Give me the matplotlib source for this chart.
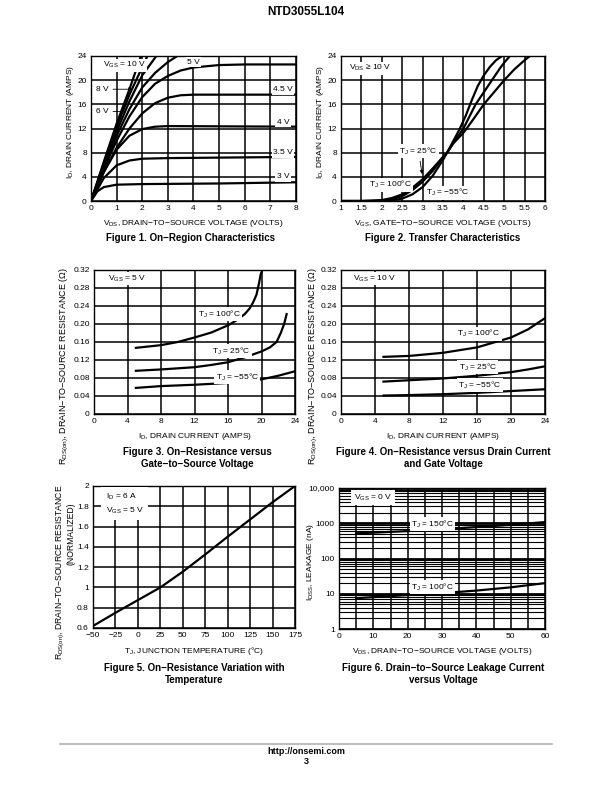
import numpy as np
import matplotlib
matplotlib.use("agg")
import matplotlib.pyplot as plt
from matplotlib.ticker import FixedLocator, NullFormatter

plt.rcParams['font.family'] = ['Liberation Sans', 'DejaVu Sans']
plt.rcParams['mathtext.default'] = 'regular'

# ---- Figure 1: on-region characteristics (VDS, ID) ----
f1_vds = {
    "10 V": [0, 0.5, 1, 1.5, 1.95],
    "8 V": [0, 0.5, 1, 1.5, 2.2],
    "6 V": [0, 0.5, 1, 1.5, 2, 2.55],
    "extra": [0, 0.5, 1, 1.5, 2, 2.5, 3, 3.37],
    "5 V": [0, 0.5, 1, 1.5, 2, 2.5, 3, 3.5, 4, 5, 6, 8],
    "4.5 V": [0, 0.5, 1, 1.5, 2, 2.5, 3, 3.5, 4, 8],
    "4 V": [0, 0.5, 1, 1.5, 2, 2.5, 3, 8],
    "3.5 V": [0, 0.5, 1, 1.5, 2, 3, 8],
    "3 V": [0, 0.25, 0.5, 1, 2, 5, 8],
}
f1_id = {
    "10 V": [0, 6.5, 12.8, 18.5, 24],
    "8 V": [0, 6.2, 12.2, 17.6, 24],
    "6 V": [0, 5.9, 11.5, 16.5, 20.8, 24],
    "extra": [0, 5.6, 10.8, 15.2, 18.8, 21.2, 23, 24],
    "5 V": [0, 5.3, 10, 14, 17.2, 19.4, 20.7, 21.6, 22.1, 22.5, 22.6, 22.6],
    "4.5 V": [0, 4.8, 8.8, 12, 14.5, 16.2, 17.1, 17.5, 17.6, 17.6],
    "4 V": [0, 4.8, 8.5, 10.8, 11.9, 12.3, 12.4, 12.3],
    "3.5 V": [0, 3.8, 5.9, 6.7, 7.0, 7.1, 7.3],
    "3 V": [0, 1.6, 2.3, 2.7, 2.8, 2.9, 3.1],
}

# ---- Figure 2: transfer characteristics (VGS, ID) ----
f2_vgs_100 = [1, 1.5, 2, 2.25, 2.5, 2.75, 3, 3.25, 3.5, 3.6, 3.75, 4, 4.08, 4.25, 4.5, 4.75, 5, 5.25, 5.5, 5.63]
f2_id_100 = [0, 0, 0.15, 0.5, 1.1, 2.2, 3.6, 5.4, 7.3, 8, 9.5, 11.3, 12, 13.6, 16, 18, 20, 21.8, 23.3, 24]
f2_vgs_25 = [1, 1.75, 2, 2.25, 2.5, 2.75, 3, 3.25, 3.5, 3.6, 3.75, 4, 4.15, 4.3, 4.5, 4.7, 4.9, 5.0, 5.14]
f2_id_25 = [0, 0, 0.05, 0.3, 0.8, 1.8, 3.2, 5.0, 7.2, 8, 9.6, 12, 14, 16, 18, 20, 22, 22.9, 24]
f2_vgs_m55 = [1, 2, 2.25, 2.5, 2.75, 3, 3.25, 3.5, 3.6, 3.75, 3.9, 4.05, 4.2, 4.35, 4.5, 4.65, 4.8, 4.95]
f2_id_m55 = [0, 0, 0.1, 0.4, 1.1, 2.3, 4.2, 6.8, 8, 9.9, 11.8, 14, 16.6, 19, 20.8, 22.2, 23.3, 24]

# ---- Figure 3: RDS(on) vs ID, VGS = 5 V ----
f3_id_100 = [5, 8, 10, 12, 14, 16, 17, 18, 18.6, 19, 19.4, 19.7, 19.9, 20.1]
f3_r_100 = [0.147, 0.153, 0.16, 0.17, 0.181, 0.197, 0.208, 0.222, 0.235, 0.248, 0.265, 0.29, 0.31, 0.32]
f3_id_25 = [5, 8, 12, 14, 16, 18, 20, 21, 21.8, 22.3, 22.7, 23]
f3_r_25 = [0.096, 0.099, 0.104, 0.109, 0.115, 0.126, 0.139, 0.148, 0.16, 0.18, 0.2, 0.222]
f3_id_m55 = [5, 8, 12, 16, 20, 22, 24]
f3_r_m55 = [0.058, 0.062, 0.065, 0.069, 0.077, 0.085, 0.095]

# ---- Figure 4: RDS(on) vs ID, VGS = 10 V ----
f4_id = [5, 8, 12, 16, 20, 22, 24]
f4_r_100 = [0.127, 0.129, 0.136, 0.148, 0.17, 0.188, 0.213]
f4_r_25 = [0.072, 0.075, 0.079, 0.085, 0.093, 0.099, 0.106]
f4_r_m55 = [0.041, 0.042, 0.044, 0.047, 0.051, 0.053, 0.055]

# ---- Figure 5: normalized RDS(on) vs TJ ----
f5_tj = [-50, -25, 0, 25, 50, 75, 100, 125, 150, 175]
f5_r = [0.62, 0.75, 0.875, 1.0, 1.155, 1.325, 1.5, 1.67, 1.84, 2.0]

# ---- Figure 6: IDSS leakage vs VDS ----
f6_vds = [5, 10, 20, 30, 40, 50, 60]
f6_i_150 = [520, 540, 600, 670, 780, 900, 1080]
f6_i_100 = [7.5, 8.0, 9.2, 10.4, 12.3, 15.2, 20]

W, H = 612, 792
fig = plt.figure(figsize=(6.12, 7.92), dpi=100)


def add_axes(x0, y0, x1, y1):
    return fig.add_axes([x0 / W, 1 - y1 / H, (x1 - x0) / W, (y1 - y0) / H])


def ylab(x, y, s, size=6):
    # y-axis titles placed in page pixels, like the datasheet
    fig.text(x / W, 1 - y / H, s, rotation=90, ha='center', va='center', fontsize=size)


def style(ax):
    for s in ax.spines.values():
        s.set_linewidth(1.0)
    ax.tick_params(length=0, labelsize=6, pad=3)
    ax.grid(True, which='both', color='black', linewidth=1.1)
    ax.set_axisbelow(True)


box = dict(facecolor='white', edgecolor='none', pad=1)
lw = 1.6
fs = 6

# Figure 1
ax1 = add_axes(91, 56, 296, 201)
for k in f1_vds:
    ax1.plot(f1_vds[k], f1_id[k], color='black', lw=lw)
ax1.set_xlim(0, 8)
ax1.set_ylim(0, 24)
ax1.set_xticks(range(0, 9))
ax1.set_yticks(range(0, 25, 4))
style(ax1)
ax1.set_xlabel('V$_{DS}$, DRAIN\u2212TO\u2212SOURCE VOLTAGE (VOLTS)', fontsize=fs)
ylab(70, 122, 'I$_{D}$, DRAIN CURRENT (AMPS)')
ax1.text(1.3, 22.5, 'V$_{GS}$ = 10 V', fontsize=fs, ha='center', va='center', bbox=box)
ax1.annotate('8 V', xy=(1.72, 18.5), xytext=(0.45, 18.5), fontsize=fs, ha='center', va='center',
             bbox=box, arrowprops=dict(arrowstyle='-|>', lw=0.6, color='black', mutation_scale=5))
ax1.annotate('6 V', xy=(1.45, 14.8), xytext=(0.45, 14.8), fontsize=fs, ha='center', va='center',
             bbox=box, arrowprops=dict(arrowstyle='-|>', lw=0.6, color='black', mutation_scale=5))
ax1.text(4.0, 23.0, '5 V', fontsize=fs, ha='center', va='center', bbox=box)
ax1.text(7.5, 18.4, '4.5 V', fontsize=fs, ha='center', va='center', bbox=box)
ax1.text(7.5, 13.0, '4 V', fontsize=fs, ha='center', va='center', bbox=box)
ax1.text(7.5, 8.0, '3.5 V', fontsize=fs, ha='center', va='center', bbox=box)
ax1.text(7.5, 4.0, '3 V', fontsize=fs, ha='center', va='center', bbox=box)

# Figure 2
ax2 = add_axes(341, 56, 545, 201)
ax2.plot(f2_vgs_100, f2_id_100, color='black', lw=lw)
ax2.plot(f2_vgs_25, f2_id_25, color='black', lw=lw)
ax2.plot(f2_vgs_m55, f2_id_m55, color='black', lw=lw)
ax2.set_xlim(1, 6)
ax2.set_ylim(0, 24)
ax2.set_xticks(np.arange(1, 6.01, 0.5))
ax2.set_xticklabels(['1', '1.5', '2', '2.5', '3', '3.5', '4', '4.5', '5', '5.5', '6'])
ax2.set_yticks(range(0, 25, 4))
style(ax2)
ax2.set_xlabel('V$_{GS}$, GATE\u2212TO\u2212SOURCE VOLTAGE (VOLTS)', fontsize=fs)
ylab(320, 122, 'I$_{D}$, DRAIN CURRENT (AMPS)')
ax2.text(1.2, 22.0, 'V$_{DS}$ \u2265 10 V', fontsize=fs, ha='left', va='center', bbox=box)
ax2.annotate('T$_{J}$ = 25\u00b0C', xy=(3.0, 4.0), xytext=(2.9, 8.2), fontsize=fs, ha='center', va='center',
             bbox=box, arrowprops=dict(arrowstyle='-|>', lw=0.6, color='black', mutation_scale=5))
ax2.text(2.2, 2.7, 'T$_{J}$ = 100\u00b0C', fontsize=fs, ha='center', va='center', bbox=box)
ax2.text(3.62, 1.4, 'T$_{J}$ = \u221255\u00b0C', fontsize=fs, ha='center', va='center', bbox=box)

# Figure 3
rlabel = 'R$_{DS(on)}$, DRAIN\u2212TO\u2212SOURCE RESISTANCE (\u03a9)'
ax3 = add_axes(94, 270, 295, 414)
ax3.plot(f3_id_100, f3_r_100, color='black', lw=lw)
ax3.plot(f3_id_25, f3_r_25, color='black', lw=lw)
ax3.plot(f3_id_m55, f3_r_m55, color='black', lw=lw)
ax3.set_xlim(0, 24)
ax3.set_ylim(0, 0.32)
ax3.set_xticks(range(0, 25, 4))
ax3.set_yticks(np.arange(0, 0.321, 0.04))
ax3.set_yticklabels(['0', '0.04', '0.08', '0.12', '0.16', '0.20', '0.24', '0.28', '0.32'])
style(ax3)
ax3.set_xlabel('I$_{D}$, DRAIN CURRENT (AMPS)', fontsize=fs)
ylab(64, 366, rlabel, 6.5)
ax3.text(4.0, 0.301, 'V$_{GS}$ = 5 V', fontsize=fs, ha='center', va='center', bbox=box)
ax3.text(15.0, 0.222, 'T$_{J}$ = 100\u00b0C', fontsize=fs, ha='center', va='center', bbox=box)
ax3.text(16.4, 0.14, 'T$_{J}$ = 25\u00b0C', fontsize=fs, ha='center', va='center', bbox=box)
ax3.text(17.1, 0.082, 'T$_{J}$ = \u221255\u00b0C', fontsize=fs, ha='center', va='center', bbox=box)

# Figure 4
ax4 = add_axes(341, 270, 545, 414)
ax4.plot(f4_id, f4_r_100, color='black', lw=lw)
ax4.plot(f4_id, f4_r_25, color='black', lw=lw)
ax4.plot(f4_id, f4_r_m55, color='black', lw=lw)
ax4.set_xlim(0, 24)
ax4.set_ylim(0, 0.32)
ax4.set_xticks(range(0, 25, 4))
ax4.set_yticks(np.arange(0, 0.321, 0.04))
ax4.set_yticklabels(['0', '0.04', '0.08', '0.12', '0.16', '0.20', '0.24', '0.28', '0.32'])
style(ax4)
ax4.set_xlabel('I$_{D}$, DRAIN CURRENT (AMPS)', fontsize=fs)
ylab(313, 366, rlabel, 6.5)
ax4.text(4.0, 0.301, 'V$_{GS}$ = 10 V', fontsize=fs, ha='center', va='center', bbox=box)
ax4.text(16.2, 0.178, 'T$_{J}$ = 100\u00b0C', fontsize=fs, ha='center', va='center', bbox=box)
ax4.text(16.1, 0.104, 'T$_{J}$ = 25\u00b0C', fontsize=fs, ha='center', va='center', bbox=box)
ax4.text(16.3, 0.064, 'T$_{J}$ = \u221255\u00b0C', fontsize=fs, ha='center', va='center', bbox=box)

# Figure 5
ax5 = add_axes(93, 486, 295, 628)
ax5.plot(f5_tj, f5_r, color='black', lw=lw)
ax5.set_xlim(-50, 175)
ax5.set_ylim(0.6, 2.0)
ax5.set_xticks(range(-50, 176, 25))
ax5.set_yticks(np.arange(0.6, 2.01, 0.2))
ax5.set_yticklabels(['0.6', '0.8', '1', '1.2', '1.4', '1.6', '1.8', '2'])
style(ax5)
ax5.set_xlabel('T$_{J}$, JUNCTION TEMPERATURE (\u00b0C)', fontsize=fs)
ylab(60, 572, 'R$_{DS(on)}$, DRAIN\u2212TO\u2212SOURCE RESISTANCE', 6.2)
ylab(70.5, 534, '(NORMALIZED)', 6.2)
ax5.text(-36, 1.825, 'I$_{D}$ = 6 A\nV$_{GS}$ = 5 V', fontsize=fs, ha='left', va='center',
         linespacing=1.6, bbox=dict(facecolor='white', edgecolor='none', pad=3))

# Figure 6
ax6 = add_axes(339, 488, 545, 629)
ax6.plot(f6_vds, f6_i_150, color='black', lw=lw)
ax6.plot(f6_vds, f6_i_100, color='black', lw=lw)
ax6.set_yscale('log')
ax6.set_xlim(0, 60)
ax6.set_ylim(1, 10000)
ax6.set_xticks(range(0, 61, 10))
ax6.xaxis.set_minor_locator(FixedLocator(range(5, 60, 10)))
ax6.set_yticks([1, 10, 100, 1000, 10000])
ax6.set_yticklabels(['1', '10', '100', '1000', '10,000'])
ax6.yaxis.set_minor_locator(FixedLocator([m * 10 ** d for d in range(4) for m in range(2, 10)]))
ax6.yaxis.set_minor_formatter(NullFormatter())
style(ax6)
ax6.tick_params(which='minor', length=0)
ax6.grid(True, which='both', axis='x', color='black', linewidth=1.1)
ax6.grid(True, which='minor', axis='y', color='black', linewidth=0.8)
ax6.grid(True, which='major', axis='y', color='black', linewidth=2.0)
ax6.set_xlabel('V$_{DS}$, DRAIN\u2212TO\u2212SOURCE VOLTAGE (VOLTS)', fontsize=fs)
ylab(311, 562, 'I$_{DSS}$, LEAKAGE (nA)')
ax6.text(10, 5400, 'V$_{GS}$ = 0 V', fontsize=fs, ha='center', va='center',
         bbox=dict(facecolor='white', edgecolor='none', pad=2))
ax6.text(27.2, 940, 'T$_{J}$ = 150\u00b0C', fontsize=fs, ha='center', va='center', bbox=box)
ax6.text(27.2, 15.2, 'T$_{J}$ = 100\u00b0C', fontsize=fs, ha='center', va='center', bbox=box)

# captions
cap = dict(fontsize=7, fontweight='bold', ha='center', va='center', linespacing=1.35)
fig.text(190 / W, 1 - 238 / H, 'Figure 1. On\u2212Region Characteristics', **cap)
fig.text(443 / W, 1 - 238 / H, 'Figure 2. Transfer Characteristics', **cap)
fig.text(197 / W, 1 - 458 / H, 'Figure 3. On\u2212Resistance versus\nGate\u2212to\u2212Source Voltage', **cap)
fig.text(443 / W, 1 - 458 / H, 'Figure 4. On\u2212Resistance versus Drain Current\nand Gate Voltage', **cap)
fig.text(194 / W, 1 - 674 / H, 'Figure 5. On\u2212Resistance Variation with\nTemperature', **cap)
fig.text(443 / W, 1 - 674 / H, 'Figure 6. Drain\u2212to\u2212Source Leakage Current\nversus Voltage', **cap)

# page header / footer
fig.text(0.5, 1 - 12 / H, 'NTD3055L104', fontsize=8.5, fontweight='bold', ha='center', va='center')
fig.add_artist(plt.Line2D([60 / W, 552 / W], [1 - 744 / H, 1 - 744 / H], color='#b0b0b0', lw=1.2))
fig.text(0.5, 1 - 752 / H, 'http://onsemi.com', fontsize=6.5, fontweight='bold', ha='center', va='center')
fig.text(0.5, 1 - 762 / H, '3', fontsize=6.5, fontweight='bold', ha='center', va='center')

fig.savefig('out.png', dpi=100)
